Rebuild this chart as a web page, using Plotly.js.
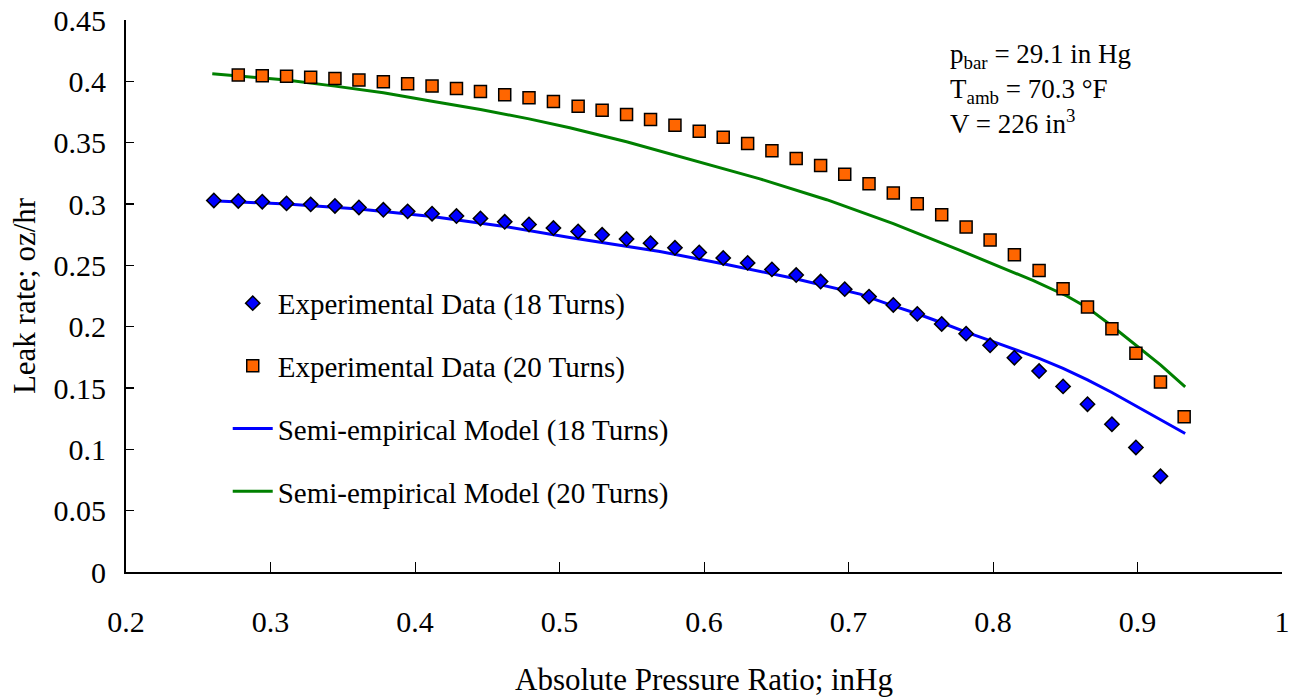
<!DOCTYPE html>
<html>
<head>
<meta charset="utf-8">
<script src="https://cdn.plot.ly/plotly-3.0.1.min.js"></script>
<style>html,body{margin:0;padding:0;background:#fff;}#chart{width:1296px;height:697px;}</style>
</head>
<body>
<div id="chart"></div>
<script>
// Experimental data, 18 turns
const exp18X = [0.2608,0.2777,0.2943,0.3111,0.3278,0.3446,0.3612,0.3781,0.3949,0.4118,0.4287,0.4453,0.4621,0.4789,0.4958,0.5129,0.5295,0.5464,0.5630,0.5799,0.5967,0.6133,0.6302,0.6470,0.6638,0.6807,0.6974,0.7142,0.7310,0.7476,0.7645,0.7814,0.7980,0.8148,0.8319,0.8485,0.8654,0.8823,0.8989,0.9159];
const exp18Y = [0.3029,0.3025,0.3019,0.3005,0.2997,0.2984,0.2972,0.2953,0.2940,0.2921,0.2902,0.2882,0.2855,0.2833,0.2804,0.2776,0.2749,0.2714,0.2681,0.2643,0.2605,0.2560,0.2520,0.2467,0.2421,0.2368,0.2306,0.2245,0.2177,0.2104,0.2022,0.1943,0.1848,0.1747,0.1638,0.1513,0.1368,0.1205,0.1015,0.0780];
// Experimental data, 20 turns
const exp20X = [0.2777,0.2943,0.3111,0.3278,0.3446,0.3612,0.3781,0.3949,0.4118,0.4287,0.4453,0.4621,0.4789,0.4958,0.5129,0.5295,0.5464,0.5630,0.5799,0.5967,0.6133,0.6302,0.6470,0.6638,0.6807,0.6974,0.7142,0.7310,0.7476,0.7645,0.7814,0.7980,0.8148,0.8319,0.8485,0.8654,0.8823,0.8989,0.9159,0.9323];
const exp20Y = [0.4051,0.4046,0.4042,0.4034,0.4024,0.4010,0.3997,0.3980,0.3961,0.3942,0.3918,0.3891,0.3866,0.3836,0.3797,0.3765,0.3730,0.3689,0.3642,0.3593,0.3544,0.3493,0.3435,0.3370,0.3313,0.3242,0.3166,0.3090,0.3002,0.2912,0.2812,0.2706,0.2586,0.2458,0.2310,0.2161,0.1982,0.1783,0.1548,0.1265];
// Semi-empirical model, 18 turns
const mod18X = [0.2597,0.3111,0.3612,0.4118,0.4621,0.5071,0.5695,0.6157,0.6618,0.7080,0.7310,0.7476,0.7645,0.7814,0.8049,0.8148,0.8319,0.8485,0.8654,0.8823,0.8989,0.9159,0.9330];
const mod18Y = [0.3027,0.3000,0.2959,0.2899,0.2817,0.2727,0.2613,0.2507,0.2395,0.2265,0.2170,0.2105,0.2032,0.1956,0.1858,0.1815,0.1742,0.1660,0.1566,0.1463,0.1352,0.1237,0.1129];
// Semi-empirical model, 20 turns
const mod20X = [0.2597,0.2943,0.3109,0.3446,0.3781,0.4118,0.4453,0.4789,0.5071,0.5464,0.5925,0.6387,0.6849,0.7310,0.7772,0.8049,0.8280,0.8511,0.8654,0.8823,0.8989,0.9159,0.9330];
const mod20Y = [0.4062,0.4030,0.4010,0.3961,0.3907,0.3838,0.3770,0.3694,0.3621,0.3507,0.3359,0.3205,0.3035,0.2840,0.2622,0.2490,0.2375,0.2250,0.2155,0.2005,0.1852,0.1688,0.1510];

const seriesNames = ['Experimental Data (18 Turns)','Experimental Data (20 Turns)','Semi-empirical Model (18 Turns)','Semi-empirical Model (20 Turns)'];
const xTitle = 'Absolute Pressure Ratio; inHg';
const yTitle = 'Leak rate; oz/hr';
const noteLines = ['p<sub>bar</sub> = 29.1 in Hg','T<sub>amb</sub> = 70.3 °F','V = 226 in<sup>3</sup>'];

const FONT = 'Liberation Serif, Times New Roman, serif';

const traces = [
  {x: mod18X, y: mod18Y, mode:'lines', name: seriesNames[2], legendgroup:'c', legendrank:3,
   line:{color:'#0000FF', width:3}},
  {x: mod20X, y: mod20Y, mode:'lines', name: seriesNames[3], legendgroup:'d', legendrank:4,
   line:{color:'#008000', width:3}},
  {x: exp18X, y: exp18Y, mode:'markers', name: seriesNames[0], legendgroup:'a', legendrank:1,
   marker:{symbol:'diamond', size:11, color:'#0000FF', line:{color:'#000000', width:1.5}}},
  {x: exp20X, y: exp20Y, mode:'markers', name: seriesNames[1], legendgroup:'b', legendrank:2,
   marker:{symbol:'square', size:12, color:'#FF6600', line:{color:'#000000', width:1.5}}}
];

const layout = {
  width:1296, height:697,
  margin:{l:126, r:14, t:20, b:125},
  paper_bgcolor:'#ffffff', plot_bgcolor:'#ffffff',
  font:{family:FONT, color:'#000000', size:30},
  showlegend:true,
  legend:{x:0.088, y:0.533, xanchor:'left', yanchor:'top', bgcolor:'rgba(0,0,0,0)',
          font:{family:FONT, size:29, color:'#000000'}, traceorder:'grouped', tracegroupgap:22,
          itemwidth:40},
  xaxis:{range:[0.2,1], dtick:0.1, tick0:0.2, showgrid:false, zeroline:false,
         showline:true, linecolor:'#000000', linewidth:1.5,
         ticks:'inside', ticklen:10, tickwidth:1, tickcolor:'#000000',
         tickfont:{family:FONT, size:30, color:'#000000'}, ticklabelstandoff:22,
         title:{text:xTitle, font:{family:FONT, size:31, color:'#000000'}, standoff:32}},
  yaxis:{range:[0,0.45], dtick:0.05, tick0:0, showgrid:false, zeroline:false,
         showline:true, linecolor:'#000000', linewidth:2,
         ticks:'inside', ticklen:8, tickwidth:1.5, tickcolor:'#000000',
         tickfont:{family:FONT, size:30, color:'#000000'}, ticklabelstandoff:12,
         title:{text:yTitle, font:{family:FONT, size:31, color:'#000000'}, standoff:9}},
  annotations:[{xref:'paper', yref:'paper', x:0.711, y:0.97, xanchor:'left', yanchor:'top',
     align:'left', showarrow:false, text: noteLines.join('<br>'),
     font:{family:FONT, size:27, color:'#000000'}}]
};

Plotly.newPlot('chart', traces, layout, {displayModeBar:false, staticPlot:true});
</script>
</body>
</html>
